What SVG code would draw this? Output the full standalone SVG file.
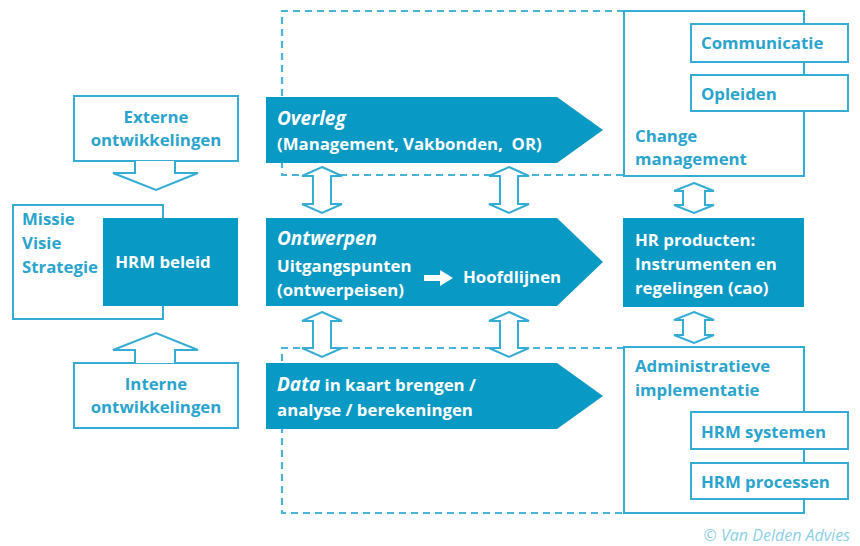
<svg xmlns="http://www.w3.org/2000/svg" width="860" height="546" viewBox="0 0 860 546">
<style>
text{font-family:"Open Sans","Liberation Sans",sans-serif;font-weight:bold;font-size:16.8px}
.out{fill:#fff;stroke:#35acd4;stroke-width:2}
.fill{fill:#0899c4}
.t{fill:#2aa4cd}
.w{fill:#fff}
.dash{fill:none;stroke:#4ab4d8;stroke-width:2.2;stroke-dasharray:7,5}
.it{font-style:italic;font-size:19px}
.copy{font-family:"Open Sans","Liberation Sans",sans-serif;font-weight:normal;font-style:italic;font-size:16px;fill:#8ccfe6}
</style>
<g id="connectors">
<path class="dash" d="M624,11 H282 V175 H624"/>
<path class="dash" d="M624,348 H282 V513 H624"/>
<path class="out" d="M322,167 L342,176 H331 V204 H342 L322,213 L302,204 H313 V176 H302 Z"/>
<path class="out" d="M509,167 L529,176 H518 V204 H529 L509,213 L489,204 H500 V176 H489 Z"/>
<path class="out" d="M694,183 L714,191 H705 V205 H714 L694,213 L674,205 H683 V191 H674 Z"/>
<path class="out" d="M322,312 L342,321 H331 V348 H342 L322,357 L302,348 H313 V321 H302 Z"/>
<path class="out" d="M509,312 L529,321 H518 V348 H529 L509,357 L489,348 H500 V321 H489 Z"/>
<path class="out" d="M694,312 L714,320 H705 V335 H714 L694,343 L674,335 H683 V320 H674 Z"/>
</g>
<g id="externe">
<rect class="out" x="74" y="96" width="164" height="65"/>
<path class="out" d="M135,161 V173 H113 L156,190 L198,173 H175 V161"/>
<text class="t" x="156" y="123" text-anchor="middle">Externe</text>
<text class="t" x="156" y="146" text-anchor="middle">ontwikkelingen</text>
</g>
<g id="missie">
<rect class="out" x="13" y="205" width="150" height="114"/>
<text class="t" x="22" y="225">Missie</text>
<text class="t" x="22" y="249">Visie</text>
<text class="t" x="22" y="273">Strategie</text>
</g>
<g id="hrm-beleid">
<rect class="fill" x="103" y="218" width="135" height="88"/>
<text class="w" x="163" y="268" text-anchor="middle">HRM beleid</text>
</g>
<g id="interne">
<rect class="out" x="74" y="363" width="164" height="65"/>
<path class="out" d="M135,363 V350 H113 L156,333 L198,350 H175 V363"/>
<text class="t" x="156" y="390" text-anchor="middle">Interne</text>
<text class="t" x="156" y="413" text-anchor="middle">ontwikkelingen</text>
</g>
<g id="overleg">
<path class="fill" d="M266,97 H557 L603,130 L557,163 H266 Z"/>
<text class="w it" x="277" y="125">Overleg</text>
<text class="w" x="277" y="150" xml:space="preserve">(Management, Vakbonden,  OR)</text>
</g>
<g id="ontwerpen">
<path class="fill" d="M266,218 H557 L603,262 L557,306 H266 Z"/>
<text class="w it" x="277" y="245">Ontwerpen</text>
<text class="w" x="277" y="272">Uitgangspunten</text>
<text class="w" x="277" y="296">(ontwerpeisen)</text>
<path fill="#fff" d="M424,275 H440 V270 L453,278 L440,286 V281 H424 Z"/>
<text class="w" x="463" y="283">Hoofdlijnen</text>
</g>
<g id="data">
<path class="fill" d="M266,363 H557 L603,396 L557,429 H266 Z"/>
<text class="w" x="277" y="391"><tspan class="it">Data</tspan> in kaart brengen /</text>
<text class="w" x="277" y="416">analyse / berekeningen</text>
</g>
<g id="change">
<rect class="out" x="624" y="11" width="180" height="165"/>
<text class="t" x="635" y="142">Change</text>
<text class="t" x="635" y="165">management</text>
</g>
<g id="communicatie">
<rect class="out" x="691" y="24" width="157" height="38"/>
<text class="t" x="701" y="49">Communicatie</text>
</g>
<g id="opleiden">
<rect class="out" x="691" y="75" width="157" height="36"/>
<text class="t" x="701" y="100">Opleiden</text>
</g>
<g id="hr-producten">
<rect class="fill" x="623" y="218" width="181" height="89"/>
<text class="w" x="635" y="246">HR producten:</text>
<text class="w" x="635" y="270">Instrumenten en</text>
<text class="w" x="635" y="294">regelingen (cao)</text>
</g>
<g id="administratieve">
<rect class="out" x="624" y="347" width="180" height="166"/>
<text class="t" x="635" y="372">Administratieve</text>
<text class="t" x="635" y="396">implementatie</text>
</g>
<g id="hrm-systemen">
<rect class="out" x="691" y="412" width="157" height="37"/>
<text class="t" x="701" y="438">HRM systemen</text>
</g>
<g id="hrm-processen">
<rect class="out" x="691" y="463" width="157" height="36"/>
<text class="t" x="701" y="488">HRM processen</text>
</g>
<text class="copy" x="850" y="541" text-anchor="end">© Van Delden Advies</text>
</svg>
